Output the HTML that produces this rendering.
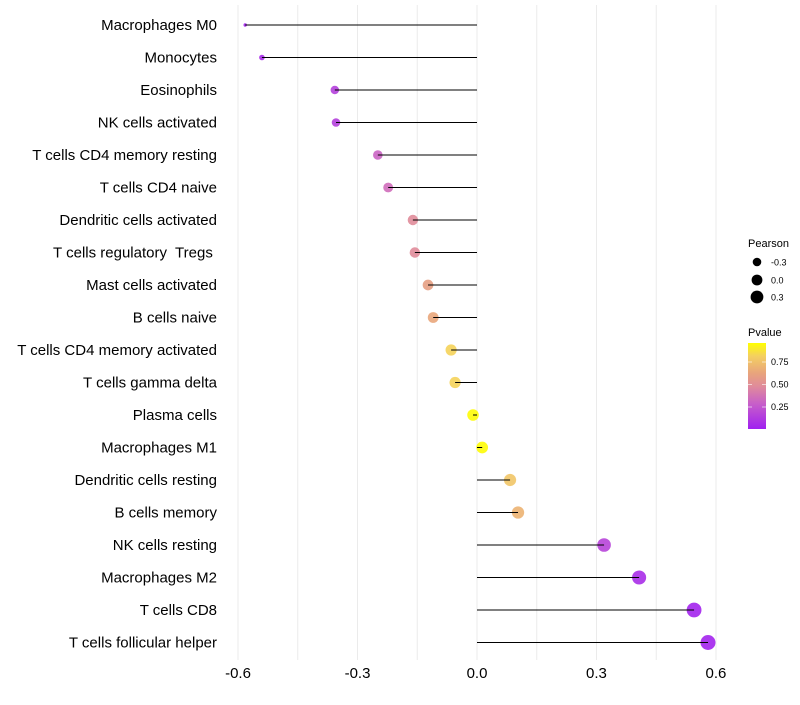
<!DOCTYPE html>
<html><head><meta charset="utf-8"><style>
body{margin:0;background:#fff;font-family:"Liberation Sans",sans-serif;}
svg text{font-family:"Liberation Sans",sans-serif;white-space:pre;}
</style></head><body>
<svg id="chart" width="800" height="700">
<defs>
<linearGradient id="pg" x1="0" y1="1" x2="0" y2="0">
<stop offset="0" stop-color="#a020f0"/><stop offset="0.3" stop-color="#c860c8"/><stop offset="0.5" stop-color="#e08c9a"/><stop offset="0.65" stop-color="#e8a47c"/><stop offset="0.85" stop-color="#f4d060"/><stop offset="1" stop-color="#ffff00"/>
</linearGradient>
</defs>
<g id="grid"></g><g id="marks"></g><g id="labels"></g>
<g>
<text x="748" y="247" font-size="11">Pearson</text>
<circle cx="757" cy="262" r="4.3" fill="#000"/><text x="771" y="265.5" font-size="9">-0.3</text>
<circle cx="757" cy="280" r="5.4" fill="#000"/><text x="771" y="283.5" font-size="9">0.0</text>
<circle cx="757" cy="297" r="6.4" fill="#000"/><text x="771" y="300.5" font-size="9">0.3</text>
</g>
<g>
<text x="748" y="336" font-size="11">Pvalue</text>
<rect x="748" y="343" width="18" height="86" fill="url(#pg)"/>
<line x1="748" x2="752" y1="362" y2="362" stroke="#fff" opacity="0.6"/><line x1="762" x2="766" y1="362" y2="362" stroke="#fff" opacity="0.6"/>
<line x1="748" x2="752" y1="384.5" y2="384.5" stroke="#fff" opacity="0.6"/><line x1="762" x2="766" y1="384.5" y2="384.5" stroke="#fff" opacity="0.6"/>
<line x1="748" x2="752" y1="407" y2="407" stroke="#fff" opacity="0.6"/><line x1="762" x2="766" y1="407" y2="407" stroke="#fff" opacity="0.6"/>
<text x="771" y="365" font-size="9">0.75</text>
<text x="771" y="387.5" font-size="9">0.50</text>
<text x="771" y="410" font-size="9">0.25</text>
</g>
</svg>
<script>
const categories=["Macrophages M0","Monocytes","Eosinophils","NK cells activated","T cells CD4 memory resting","T cells CD4 naive","Dendritic cells activated","T cells regulatory  Tregs ","Mast cells activated","B cells naive","T cells CD4 memory activated","T cells gamma delta","Plasma cells","Macrophages M1","Dendritic cells resting","B cells memory","NK cells resting","Macrophages M2","T cells CD8","T cells follicular helper"];
const pearson=[-0.582,-0.54,-0.357,-0.354,-0.249,-0.223,-0.161,-0.156,-0.123,-0.11,-0.065,-0.055,-0.01,0.013,0.083,0.103,0.319,0.407,0.545,0.58];
const pvalue=[0.02,0.05,0.15,0.15,0.32,0.36,0.5,0.5,0.62,0.66,0.86,0.86,0.99,0.99,0.8,0.72,0.17,0.06,0.02,0.02];
const xTicks=[-0.6,-0.3,0,0.3,0.6];
const xTickLabels=["-0.6","-0.3","0.0","0.3","0.6"];
const NS="http://www.w3.org/2000/svg";
const x=v=>477+v*398.3;
const y=i=>25+i*32.5;
const pmin=Math.min(...pearson),pmax=Math.max(...pearson);
const r=v=>1.7+5.8*Math.sqrt((v-pmin)/(pmax-pmin));
const stops=[[0,[160,32,240]],[0.3,[200,96,200]],[0.5,[224,140,154]],[0.65,[232,164,124]],[0.85,[244,208,96]],[1,[255,255,0]]];
function col(p){for(let k=1;k<stops.length;k++){if(p<=stops[k][0]){const a=stops[k-1],b=stops[k];const t=(p-a[0])/(b[0]-a[0]);return "rgb("+a[1].map((c,j)=>Math.round(c+(b[1][j]-c)*t)).join(",")+")";}}return "rgb(255,255,0)";}
function mk(t,at,parent){const e=document.createElementNS(NS,t);for(const k in at)e.setAttribute(k,at[k]);document.getElementById(parent).appendChild(e);return e;}
for(let g=-0.6;g<=0.601;g+=0.15){
const gl=mk("line",{x1:x(g),x2:x(g),y1:5,y2:660,stroke:"#ebebeb","stroke-width":1},"grid");


}
xTicks.forEach((t,i)=>{
const tl=mk("text",{x:x(t),y:678,"font-size":15,"text-anchor":"middle",fill:"#000"},"labels");
tl.textContent=xTickLabels[i];


});
categories.forEach((c,i)=>{
const pt=mk("circle",{cx:x(pearson[i]),cy:y(i),r:r(pearson[i]),fill:col(pvalue[i]),opacity:0.9},"marks");


const ln=mk("line",{x1:x(0),x2:x(pearson[i]),y1:y(i),y2:y(i),stroke:"#000","stroke-width":1},"marks");


const lb=mk("text",{x:217,y:y(i)+5,"font-size":15,"text-anchor":"end",fill:"#000"},"labels");
lb.textContent=c;


});
</script>
</body></html>
